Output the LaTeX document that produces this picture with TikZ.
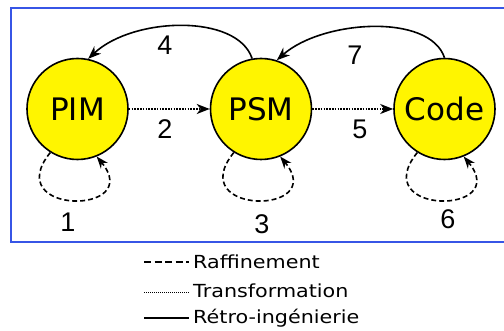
\documentclass[tikz,border=0pt]{standalone}
\usepackage{fontspec}
\setmainfont{Liberation Sans}
\newfontfamily\nodefont{DejaVu Sans}
\newfontfamily\legfont[FakeStretch=1.15]{DejaVu Sans}
\usetikzlibrary{arrows.meta}
\definecolor{frameblue}{RGB}{55,85,230}
\definecolor{nodeyellow}{RGB}{255,245,0}
\tikzset{
  state/.style={circle, draw=black, line width=1.6pt, fill=nodeyellow, minimum size=101pt, inner sep=0pt, font=\nodefont\fontsize{31}{34}\selectfont},
  num/.style={font=\fontsize{27}{30}\selectfont, inner sep=0pt},
  retro/.style={line width=1.6pt, -{Stealth[length=13pt,width=10pt,inset=4pt]}},
  trans/.style={line width=2pt, dash pattern=on 1.6pt off 1.2pt, -{Stealth[length=13pt,width=10pt,inset=4pt]}},
  raff/.style={line width=1.6pt, dash pattern=on 5pt off 3pt, -{Stealth[length=12pt,width=9pt,inset=4pt]}},
  legtext/.style={anchor=west, font=\legfont\fontsize{18}{21}\selectfont, inner sep=0pt}
}
\begin{document}
\begin{tikzpicture}[x=1pt,y=-1pt]
\useasboundingbox (0,0) rectangle (504,331);
\fill[white] (0,0) rectangle (504,331);
\draw[frameblue, line width=1.5pt] (11,8) rectangle (515,242);

\node[state] (pim) at (77.5,109) {PIM};
\node[state] (psm) at (261,109) {PSM};
\node[state] (code) at (444.5,109) {Code};

% transformations
\draw[trans] (pim.east) -- (psm.west);
\draw[trans] (psm.east) -- (code.west);

% retro-ingenierie
\draw[retro] (psm.100) .. controls +(-15,-45) and +(45,-42) .. (pim.78);
\draw[retro] (code.90) .. controls +(-15,-45) and +(45,-40) .. (psm.72);

% raffinement loops
\draw[raff] (pim.238) .. controls +(-51,63) and +(49,59) .. (pim.292);
\draw[raff] (psm.238) .. controls +(-51,63) and +(49,59) .. (psm.292);
\draw[raff] (code.238) .. controls +(-51,63) and +(49,59) .. (code.292);

% numbers
\node[num] (n1) at (68,222) {1};
\node[num] (n2) at (165,129) {2};
\node[num] (n3) at (262,224) {3};
\node[num] (n4) at (165,45) {4};
\node[num] (n5) at (360,129) {5};
\node[num] (n6) at (448,219) {6};
\node[num] (n7) at (355,55) {7};

% legend
\coordinate (l1a) at (144,262); \coordinate (l1b) at (189,262);
\coordinate (l2a) at (144,292); \coordinate (l2b) at (189,292);
\coordinate (l3a) at (144,318); \coordinate (l3b) at (189,318);
\draw[line width=1.4pt, dash pattern=on 7pt off 3.5pt] (l1a) -- (l1b);
\draw[line width=0.8pt, dash pattern=on 1pt off 1pt] (l2a) -- (l2b);
\draw[line width=1.4pt] (l3a) -- (l3b);
\node[legtext] (t1) at (193,262) {Raffinement};
\node[legtext] (t2) at (193,291) {Transformation};
\node[legtext] (t3) at (193,318) {Rétro-ingénierie};
\end{tikzpicture}
\end{document}
